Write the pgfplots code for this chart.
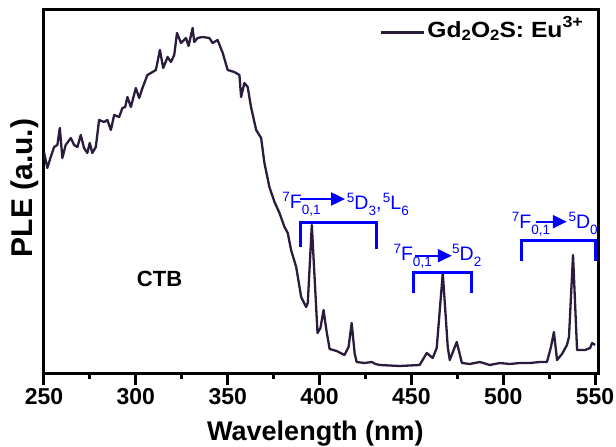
\documentclass[border=0pt]{standalone}
\usepackage{fontspec}
\setmainfont{Liberation Sans}
\newfontfamily\widesans[FakeStretch=1.12]{Liberation Sans}
\usepackage{pgfplots}
\pgfplotsset{compat=1.18}
\usetikzlibrary{arrows.meta}
\definecolor{curve}{HTML}{2B1B3D}
\definecolor{annblue}{HTML}{0000FF}

% small raised / lowered digits in the text font
\newcommand\asup[1]{\raisebox{7pt}{\fontsize{13.5}{13.5}\selectfont #1}}
\newcommand\asub[1]{\raisebox{-6pt}{\fontsize{13.5}{13.5}\selectfont #1}}
\newcommand\lsub[1]{\raisebox{-3pt}{\fontsize{15}{15}\selectfont #1}}
\newcommand\lsup[1]{\raisebox{10pt}{\fontsize{16}{16}\selectfont #1}}

\begin{document}
\begin{tikzpicture}
\begin{axis}[
  scale only axis, width=554pt, height=363pt,
  xmin=250, xmax=551.6, ymin=0, ymax=363,
  xtick={250,300,...,550}, minor x tick num=1,
  xtick pos=left, ytick=\empty,
  tick align=outside,
  major tick length=12pt, minor tick length=6pt,
  tick style={black, line width=3pt},
  axis line style={line width=3pt},
  /pgf/number format/assume math mode=true,
  xticklabel style={font=\fontsize{23}{23}\selectfont\bfseries},
  xlabel={Wavelength (nm)},
  xlabel style={font=\fontsize{27}{27}\selectfont\bfseries,
    at={(axis description cs:0.49,-0.1846)}, anchor=base},
  ylabel={PLE (a.u.)},
  ylabel style={font=\fontsize{30}{30}\selectfont\bfseries,
    at={(axis description cs:-0.0199,0.51)}, anchor=base},
  legend style={draw=none, fill=none, inner sep=0pt,
    at={(axis cs:432.9,340.5)}, anchor=west,
    font=\fontsize{22}{22}\selectfont\widesans\bfseries},
  legend image code/.code={\draw[#1] (0pt,0pt) -- (43pt,0pt);},
  legend cell align=left,
]
\addplot[curve, line width=2.3pt, line join=round] coordinates {
(250.0,221) (251.8,205) (253.5,215) (255.5,226) (257.3,228) (258.6,245)
(260.0,215) (261.8,228) (264.6,235) (266.4,228) (268.2,226) (270.0,238)
(271.8,225) (273.6,220) (274.9,230) (276.3,220) (278.2,226) (280.0,253)
(282.7,251) (284.5,253) (286.4,243) (288.2,258) (290.9,256) (292.7,265)
(294.2,266) (295.4,276) (297.3,266) (300.0,285) (301.8,275) (303.6,285)
(306.3,298) (309.1,301) (310.9,303) (313.1,323) (314.9,305) (317.3,316)
(319.1,311) (320.9,318) (322.4,340) (324.6,330) (327.3,335) (328.7,327)
(330.9,345) (331.8,331) (333.6,335) (336.3,336) (340.0,335) (341.8,330)
(344.5,333) (347.3,320) (350.0,303) (353.6,301) (356.4,298) (357.3,276)
(359.1,290) (360.9,286) (362.7,266) (365.5,243) (368.2,235) (370.0,210)
(372.7,186) (375.5,171) (378.2,160) (380.9,146) (382.7,140) (384.5,123)
(387.3,106) (390.0,76) (392.7,66) (393.6,70) (395.8,148) (398.9,40)
(400.5,45) (402.2,63) (403.8,42) (405.5,24) (409.3,22) (413.6,18)
(415.8,26) (417.5,50) (419.1,20) (420.2,11) (424.5,10) (428.4,11)
(430.5,9) (432.7,8) (443.6,7) (454.5,8) (458.4,20) (461.6,15)
(463.8,25) (467.1,100) (469.8,26) (470.9,13) (474.7,31) (477.5,10)
(481.8,9) (487.3,11) (492.7,8) (498.2,10) (503.6,9) (509.1,10)
(514.5,10) (520.0,11) (523.8,11) (526.0,26) (527.6,41) (529.3,13)
(532.0,19) (534.7,28) (535.8,36) (538.0,118) (540.2,23) (544.5,23)
(547.3,25) (548.4,30) (550.0,28)
};
\addlegendentry{\raisebox{9pt}{Gd\lsub{2}O\lsub{2}S: Eu\lsup{3+}}}

% transition brackets
\draw[annblue, line width=3pt] (389.8,126.3) -- (389.8,150.3) -- (431.1,150.3) -- (431.1,123.7);
\draw[annblue, line width=3pt] (451.1,79.7) -- (451.1,100.7) -- (482.9,100.7) -- (482.9,79.7);
\draw[annblue, line width=3pt] (510.1,112) -- (510.1,132.3) -- (550.0,132.3) -- (550.0,112);

\tikzset{ann/.style={annblue, anchor=base west, inner sep=0pt, font=\fontsize{19.5}{19.5}\selectfont},
         arr/.style={annblue, line width=2.2pt, -{Triangle[length=14pt,width=13pt]}}}
\node[ann] at (379.7,164) {\asup{7}F\asub{0,1}};
\draw[arr] (389.4,174) -- (413.9,174);
\node[ann] at (414.8,163.5) {\asup{5}D\asub{3},\hspace{1.5pt}\asup{5}L\asub{6}};

\node[ann] at (440.2,112) {\asup{7}F\asub{0,1}};
\draw[arr] (452.0,117.3) -- (472.0,117.3);
\node[ann] at (472.1,112) {\asup{5}D\asub{2}};

\node[ann] at (504.6,144.7) {\asup{7}F\asub{0,1}};
\draw[arr] (517.9,151.3) -- (534.6,151.3);
\node[ann] at (535.5,144.7) {\asup{5}D\asub{0}};

\node[anchor=base west, inner sep=0pt, font=\fontsize{22}{22}\selectfont\bfseries] at (300.5,86.3) {CTB};
\end{axis}
\pgfresetboundingbox
\path[use as bounding box] ([xshift=-44pt,yshift=-74pt]current axis.south west)
  rectangle ([xshift=18pt,yshift=10pt]current axis.north east);
\end{tikzpicture}
\end{document}
